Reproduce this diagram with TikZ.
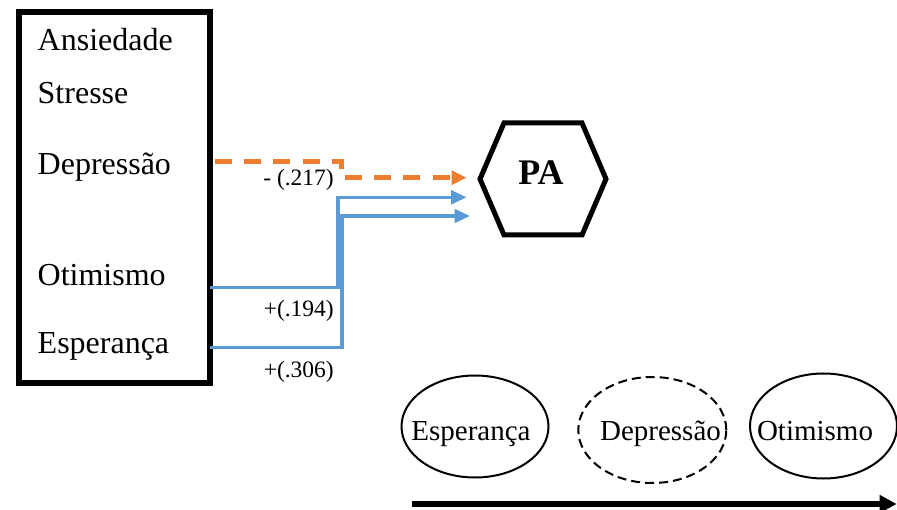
\documentclass[tikz,border=0pt]{standalone}
\usepackage{fontspec}
\setmainfont{Liberation Serif}
\usetikzlibrary{arrows.meta,shapes.geometric}
\definecolor{negorange}{HTML}{ED7D31}
\definecolor{posblue}{HTML}{5B9BD5}
\begin{document}
\begin{tikzpicture}[x=1pt,y=-1pt,
  varname/.style={anchor=base west,inner sep=0pt,font=\fontsize{32}{36}\selectfont},
  coef/.style={anchor=base east,inner sep=0pt,font=\fontsize{23.5}{26}\selectfont},
  ovaltext/.style={anchor=base,inner sep=0pt,font=\fontsize{29}{32}\selectfont},
  oval/.style={ellipse,draw,line width=2pt,inner sep=0pt},
  negpath/.style={draw=negorange,line width=4.5pt,dash pattern=on 17pt off 12.2pt,
    -{Triangle[length=15pt,width=13.5pt]}},
  pospath/.style={draw=posblue,line width=3.5pt,
    -{Triangle[length=15.5pt,width=13.5pt]}}]
\useasboundingbox (0,0) rectangle (897,510);

% predictor block
\node (box) [draw,line width=6pt,inner sep=0pt,anchor=north west,
  minimum width=191.5pt,minimum height=371.5pt] at (15.5,9) {};
\node[varname] (ans) at (37.5,50.7) {Ansiedade};
\node[varname] (str) at (37.5,104) {Stresse};
\node[varname] (dep) at (37.5,175) {Depressão};
\node[varname] (oti) at (37.5,286) {Otimismo};
\node[varname] (esp) at (37.5,354) {Esperança};

% outcome hexagon
\coordinate (h1) at (480,179);
\coordinate (h2) at (504,123);
\coordinate (h3) at (582,123);
\coordinate (h4) at (606,179);
\coordinate (h5) at (582,235);
\coordinate (h6) at (504,235);
\draw[line width=5pt,line join=miter] (h1) -- (h2) -- (h3) -- (h4) -- (h5) -- (h6) -- cycle;
\node (pa) [anchor=base,inner sep=0pt,font=\fontsize{36}{40}\selectfont\bfseries] at (541,185) {PA};

% path start and end points
\coordinate (depout) at (215,161.7);
\coordinate (otiout) at (210,287.5);
\coordinate (espout) at (210,347.7);
\coordinate (depin) at (466.7,177.7);
\coordinate (otiin) at (466.7,197.3);
\coordinate (espin) at (470,216);

% paths into PA
\draw[negpath] (depout) -| (341.7,177.7) -- (depin);
\draw[pospath] (otiout) -| (338,197.3) -- (otiin);
\draw[pospath] (espout) -| (342,216) -- (espin);

% coefficients
\node[coef] (cdep) at (334,186) {- (.217)};
\node[coef] (coti) at (334,316.5) {+(.194)};
\node[coef] (cesp) at (334,377.5) {+(.306)};

% legend ovals
\node (e1) [oval,minimum width=147pt,minimum height=102pt] at (475,426.5) {};
\node (e2) [oval,dashed,dash pattern=on 9pt off 5pt,minimum width=148pt,minimum height=106pt] at (652.3,430) {};
\node (e3) [oval,minimum width=147pt,minimum height=105pt] at (823.5,426) {};
\node[ovaltext] (t1) at (471,440) {Esperança};
\node[ovaltext] (t2) at (660.5,440) {Depressão};
\node[ovaltext] (t3) at (815,440) {Otimismo};

% ordering arrow
\coordinate (axs) at (411.7,504);
\coordinate (axe) at (896.7,504);
\draw[line width=6.5pt,-{Triangle[length=17pt,width=17pt]}] (axs) -- (axe);
\end{tikzpicture}
\end{document}
